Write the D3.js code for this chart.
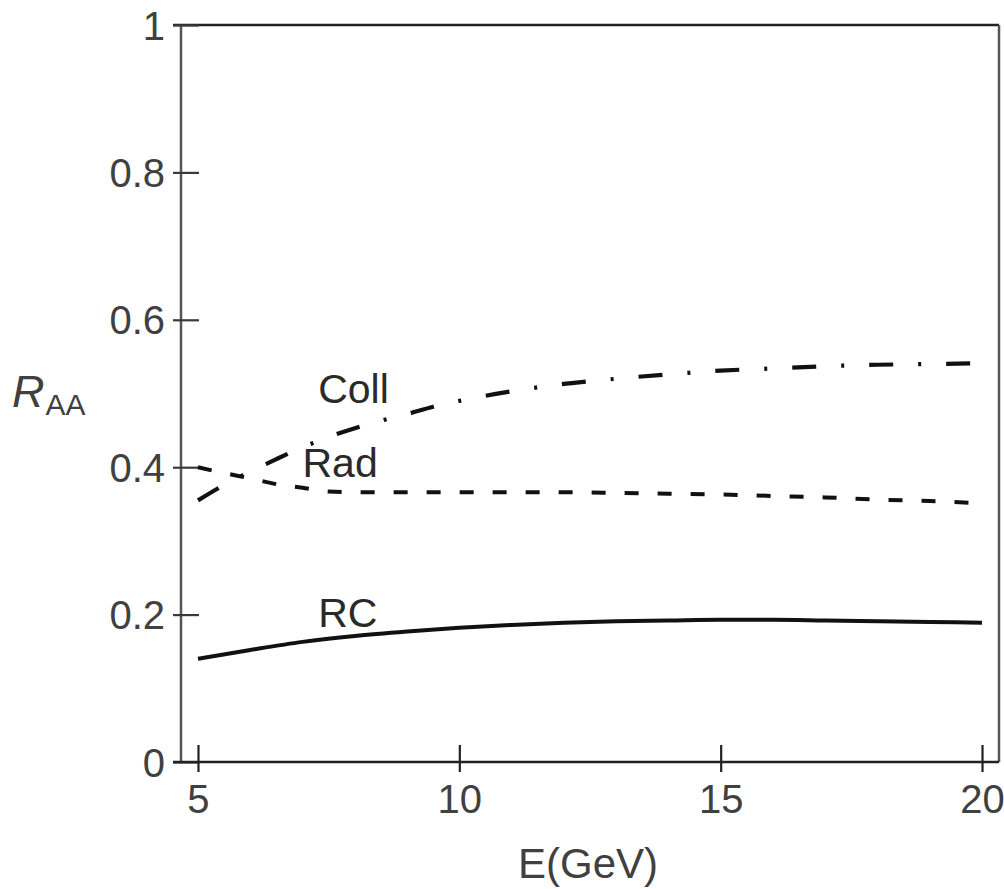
<!DOCTYPE html>
<html>
<head>
<meta charset="utf-8">
<script src="https://cdn.jsdelivr.net/npm/d3@7"></script>
<style>
  html, body { margin: 0; padding: 0; background: #fff; }
  svg { display: block; font-family: "Liberation Sans", Arial, Helvetica, sans-serif; }
</style>
</head>
<body>
<svg id="chart" width="1004" height="889"></svg>
<script>
// ---- data ----
const xTicks = [5, 10, 15, 20];
const yTicks = [0, 0.2, 0.4, 0.6, 0.8, 1];
const yTickLabels = ["0", "0.2", "0.4", "0.6", "0.8", "1"];

const rcE   = [5, 6, 7, 8, 9, 10, 11, 12, 13, 14, 15, 16, 17, 18, 19, 20];
const rcR   = [0.140, 0.152, 0.163, 0.171, 0.177, 0.182, 0.186, 0.189, 0.191, 0.192, 0.193, 0.193, 0.192, 0.191, 0.190, 0.189];

const radE  = [5, 5.5, 6, 6.5, 7, 7.5, 8, 9, 10, 11, 12, 13, 14, 15, 16, 17, 18, 19, 20];
const radR  = [0.400, 0.392, 0.385, 0.377, 0.372, 0.367, 0.366, 0.366, 0.366, 0.366, 0.366, 0.365, 0.364, 0.363, 0.361, 0.359, 0.356, 0.354, 0.351];

const collE = [5, 5.5, 6, 6.5, 7, 7.5, 8, 8.5, 9, 9.5, 10, 11, 12, 13, 14, 15, 16, 17, 18, 19, 20];
const collR = [0.355, 0.376, 0.394, 0.411, 0.427, 0.441, 0.453, 0.463, 0.472, 0.482, 0.490, 0.503, 0.513, 0.520, 0.526, 0.531, 0.534, 0.537, 0.539, 0.540, 0.541];

const curveLabels = ["Coll", "Rad", "RC"];

// ---- layout ----
const svg = d3.select("#chart");
const mLeft = 181, mRight = 999, mTop = 25, mBottom = 762;
const x = d3.scaleLinear().domain([4.675, 20.325]).range([mLeft, mRight]);
const y = d3.scaleLinear().domain([0, 1]).range([mBottom, mTop]);
const axisColor = "#3a3a3a";
const textColor = "#404040";

// frame
svg.append("line").attr("x1", mLeft - 8).attr("x2", mRight).attr("y1", mTop).attr("y2", mTop)
  .attr("stroke", "#222").attr("stroke-width", 2.5);
svg.append("line").attr("x1", mRight).attr("x2", mRight).attr("y1", mTop).attr("y2", mBottom)
  .attr("stroke", "#555").attr("stroke-width", 2.5);

// y axis
const yAxis = svg.append("g").attr("transform", `translate(${mLeft},0)`)
  .call(d3.axisLeft(y).tickValues(yTicks).tickFormat((d, i) => yTickLabels[i]).tickSize(8).tickPadding(16));
yAxis.select(".domain").attr("d", `M0,${mTop}V${mBottom}`).attr("stroke", "#555").attr("stroke-width", 2.5);
yAxis.selectAll(".tick line").attr("x1", -8).attr("x2", 18).attr("stroke", axisColor).attr("stroke-width", 2.2);
yAxis.selectAll(".tick text").attr("font-size", 40).attr("fill", textColor)
  .attr("font-family", "'Liberation Sans', Arial, sans-serif").attr("x", -16).attr("dy", "0.35em");

// x axis
const xAxis = svg.append("g").attr("transform", `translate(0,${mBottom})`)
  .call(d3.axisBottom(x).tickValues(xTicks).tickFormat(d3.format("d")).tickSize(10));
xAxis.select(".domain").attr("d", `M${mLeft - 8},0H${mRight}`).attr("stroke", "#222").attr("stroke-width", 2.5);
xAxis.selectAll(".tick line").attr("y1", -17).attr("y2", 10).attr("stroke", "#222").attr("stroke-width", 2.2);
xAxis.selectAll(".tick text").attr("font-size", 40).attr("fill", textColor)
  .attr("font-family", "'Liberation Sans', Arial, sans-serif").attr("y", 51).attr("dy", 0);

// axis titles
svg.append("text").attr("x", 588).attr("y", 878).attr("text-anchor", "middle")
  .attr("font-size", 42).attr("fill", textColor).text("E(GeV)");
const yt = svg.append("text").attr("x", 12).attr("y", 407).attr("fill", textColor);
yt.append("tspan").attr("font-size", 45).attr("font-style", "italic").text("R");
yt.append("tspan").attr("font-size", 30).attr("dx", 1).attr("dy", 8).text("AA");

// curves
const line = d3.line().x(d => x(d[0])).y(d => y(d[1])).curve(d3.curveMonotoneX);
const series = [
  { e: rcE, r: rcR, dash: null, w: 4 },
  { e: radE, r: radR, dash: "14,19", w: 4 },
  { e: collE, r: collR, dash: "24,25,3,25", w: 4.2 }
];
series.forEach(s => {
  svg.append("path")
    .datum(s.e.map((e, i) => [e, s.r[i]]))
    .attr("d", line)
    .attr("fill", "none")
    .attr("stroke", "#111")
    .attr("stroke-width", s.w)
    .attr("stroke-dasharray", s.dash);
});

// curve labels
const labelPos = [[7.3, 0.487], [7.0, 0.387], [7.3, 0.183]];
curveLabels.forEach((t, i) => {
  svg.append("text").attr("x", x(labelPos[i][0])).attr("y", y(labelPos[i][1]))
    .attr("font-size", 41).attr("fill", "#2a2a2a").text(t);
});
</script>
</body>
</html>
